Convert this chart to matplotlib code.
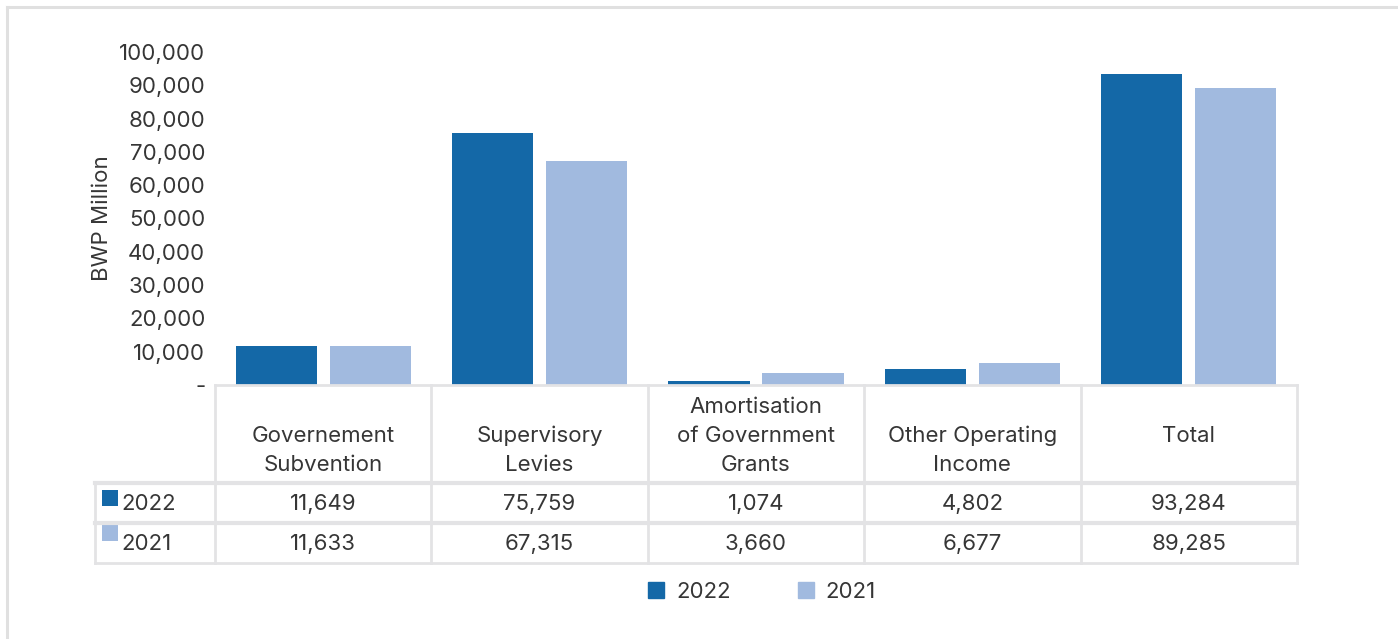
import matplotlib
matplotlib.use("Agg")
import matplotlib.pyplot as plt
from matplotlib.patches import Rectangle
from matplotlib.lines import Line2D
from matplotlib.ticker import FuncFormatter, MultipleLocator

plt.rcParams['font.family'] = ['Inter', 'DejaVu Sans']

# ---- data -------------------------------------------------------------
categories = ["Governement\nSubvention", "Supervisory\nLevies",
              "Amortisation\nof Government\nGrants", "Other Operating\nIncome",
              "Total"]
series_names = ["2022", "2021"]
values_2022 = [11649, 75759, 1074, 4802, 93284]
values_2021 = [11633, 67315, 3660, 6677, 89285]

# ---- styling ----------------------------------------------------------
C_DARK = "#1468A7"
C_LIGHT = "#A1BADF"
TXT = "#363636"
GRID = "#E3E3E5"
FS = 16

W, H = 1398, 639
fig = plt.figure(figsize=(W / 100, H / 100), dpi=100)


def fx(px):
    return px / W


def fy(py):
    return 1 - py / H


# outer frame
fig.add_artist(Line2D([fx(7), fx(7)], [fy(7), 0], color="#E0E0E0", lw=2.2,
                      transform=fig.transFigure))
fig.add_artist(Line2D([fx(7), 1], [fy(7), fy(7)], color="#E0E0E0", lw=2.2,
                      transform=fig.transFigure))

# ---- bar chart --------------------------------------------------------
ax_left, ax_right = 215, 1297
ax = fig.add_axes([fx(ax_left), fy(385), (ax_right - ax_left) / W, (385 - 52) / H])
n = len(categories)
x = list(range(n))
bw = 0.375
gap = 0.06
ax.bar([i - (bw + gap) / 2 for i in x], values_2022, width=bw, color=C_DARK)
ax.bar([i + (bw + gap) / 2 for i in x], values_2021, width=bw, color=C_LIGHT)
ax.set_xlim(-0.5, n - 0.5)
ax.set_ylim(0, 100000)
ax.yaxis.set_major_locator(MultipleLocator(10000))
ax.yaxis.set_major_formatter(FuncFormatter(lambda v, p: "-" if v == 0 else f"{int(v):,}"))
ax.tick_params(axis="y", length=0, pad=7, labelsize=FS, labelcolor=TXT)
ax.set_xticks([])
for s in ax.spines.values():
    s.set_visible(False)
ax.set_ylabel("BWP Million", fontsize=FS, color=TXT, labelpad=5)
ax.patch.set_alpha(0)

# ---- data table -------------------------------------------------------
tab_left, tab_top, tab_bot = 95, 385, 563
unit = (ax_right - ax_left) / n
tx0 = -0.5 - (ax_left - tab_left) / unit
tax = fig.add_axes([fx(tab_left), fy(tab_bot), (ax_right - tab_left) / W,
                    (tab_bot - tab_top) / H])
tax.set_xlim(tx0, n - 0.5)
tax.set_ylim(tab_bot - tab_top, 0)
tax.axis("off")

row_head = 98
row_a = 138
row_b = 178
lw = 2.0
# column boundaries
for b in [i - 0.5 for i in range(n + 1)]:
    tax.plot([b, b], [0, row_b], color=GRID, lw=lw, clip_on=False)
tax.plot([tx0, tx0], [row_head, row_b], color=GRID, lw=lw, clip_on=False)
# row boundaries
tax.plot([-0.5, n - 0.5], [0, 0], color=GRID, lw=lw, clip_on=False)
for yb in [row_head, row_a, row_b]:
    tax.plot([tx0, n - 0.5], [yb, yb], color=GRID, lw=lw + 1 if yb != row_b else lw,
             clip_on=False)

# header cells
for i, cat in enumerate(categories):
    lines = cat.split("\n")
    k = len(lines)
    if k == 1:
        ys = [51]
    else:
        ys = [80 - 29 * (k - 1 - j) for j in range(k)]
    for line, yy in zip(lines, ys):
        tax.text(i, yy, line, ha="center", va="center", fontsize=FS, color=TXT)

# value rows
for vals, yy in [(values_2022, (row_head + row_a) / 2 + 1),
                 (values_2021, (row_a + row_b) / 2 + 1)]:
    for i, v in enumerate(vals):
        tax.text(i, yy, f"{v:,}", ha="center", va="center", fontsize=FS, color=TXT)

# row labels with colour keys
sq_w = 16 / unit
for name, col, y_sq, y_txt in [(series_names[0], C_DARK, 105, 119),
                               (series_names[1], C_LIGHT, 140, 159)]:
    tax.add_patch(Rectangle((tx0 + 7 / unit, y_sq), sq_w, 16, color=col, lw=0,
                            clip_on=False))
    tax.text(tx0 + 26 / unit, y_txt, name, ha="left", va="center", fontsize=FS,
             color=TXT)

# ---- legend -----------------------------------------------------------
handles = [Rectangle((0, 0), 1, 1, color=C_DARK), Rectangle((0, 0), 1, 1, color=C_LIGHT)]
fig.legend(handles, series_names, loc="center", bbox_to_anchor=(fx(762), fy(592)),
           ncol=2, frameon=False, fontsize=FS, handlelength=0.72, handleheight=0.72,
           handletextpad=0.55, columnspacing=3.0, labelcolor=TXT)

fig.savefig("out.png", dpi=100, facecolor="white")
